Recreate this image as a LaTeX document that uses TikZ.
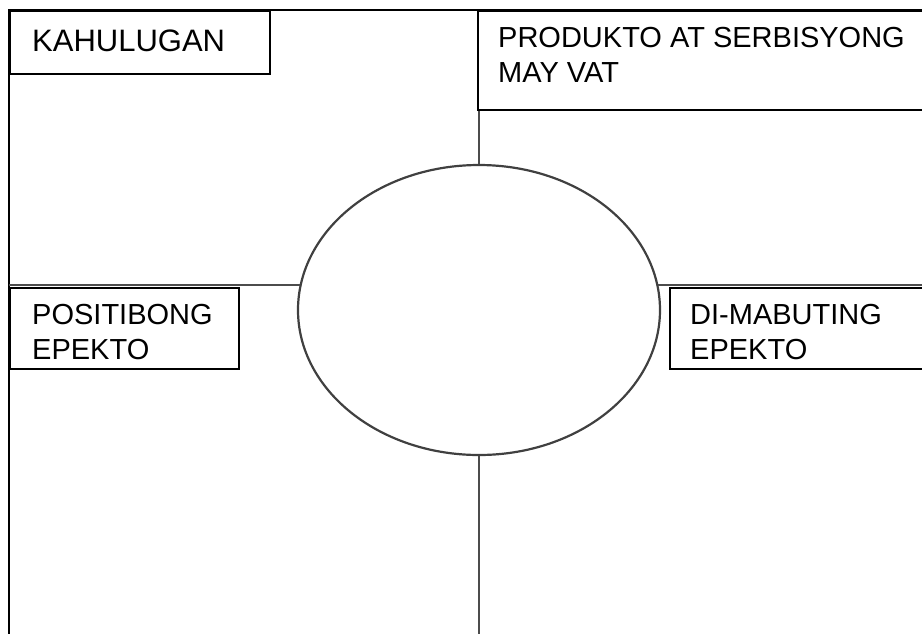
\documentclass[tikz,border=0pt]{standalone}
\usepackage{fontspec}
\setmainfont{Liberation Sans}
\usetikzlibrary{shapes.geometric, positioning, calc}

\begin{document}
\begin{tikzpicture}[x=1pt, y=-1pt,
  frame/.style={draw=black, line width=2pt},
  box/.style={draw=black, line width=2.2pt, fill=white, inner sep=0pt, anchor=north west},
  link/.style={draw=black!70, line width=2.6pt},
  oval/.style={ellipse, draw=black!75, line width=2.2pt, inner sep=0pt, minimum width=362pt, minimum height=290pt},
  lbl/.style={anchor=base west, inner sep=0pt, align=left, font=\fontsize{29}{35}\selectfont},
]
\useasboundingbox (0,0) rectangle (922,633);

% --- corners of the page frame ---
\coordinate (tl) at (9,10);
\coordinate (tr) at (926,10);
\coordinate (bl) at (9,636);
\draw[frame] (bl) -- (tl) -- (tr);

% --- centre oval ---
\node[oval] (centre) at (479,310) {};

% --- boxes ---
\node[box, minimum width=260pt, minimum height=63pt] (kahbox) at (tl) {};
\node[box, minimum width=452pt, minimum height=99pt] (prodbox) at (477,10) {};
\node[box, minimum width=229pt, minimum height=81pt] (posbox) at (9,287) {};
\node[box, minimum width=262pt, minimum height=81pt] (negbox) at (669,287) {};

% --- connectors ---
\draw[link] (centre.north) -- (centre.north |- prodbox.south);
\draw[link] (centre.172) -- (centre.172 -| tl);
\draw[link] (centre.8) -- (centre.8 -| tr);
\draw[link] (centre.south) -- (centre.south |- bl);

% --- labels (base = last line) ---
\node[lbl, font=\fontsize{31}{37}\selectfont] (kahtxt) at (32,51) {KAHULUGAN};
\node[lbl] (prodtxt) at (498,82) {PRODUKTO AT SERBISYONG\\MAY VAT};
\node[lbl] (postxt) at (32,359) {POSITIBONG\\EPEKTO};
\node[lbl] (negtxt) at (690,359) {DI-MABUTING\\EPEKTO};

\end{tikzpicture}
\end{document}
